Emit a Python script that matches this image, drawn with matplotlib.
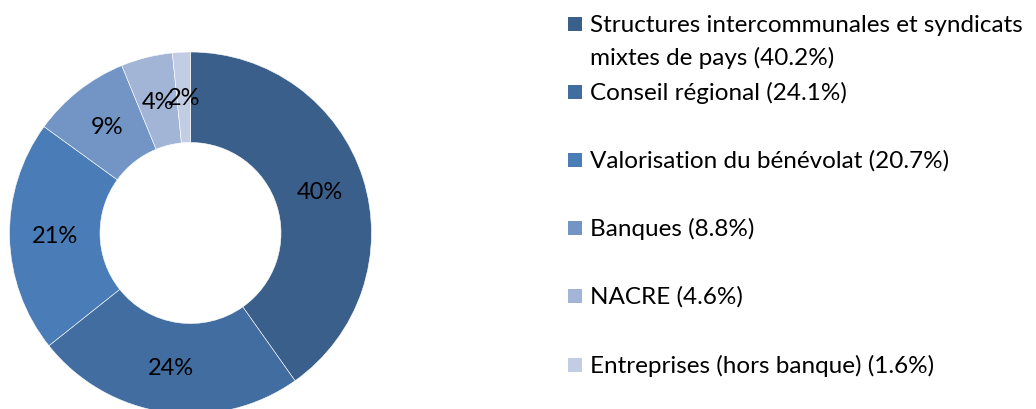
import matplotlib.pyplot as plt
from matplotlib.patches import Rectangle

# donut data
categories = ['Structures intercommunales et syndicats\nmixtes de pays',
              'Conseil régional',
              'Valorisation du bénévolat',
              'Banques',
              'NACRE',
              'Entreprises (hors banque)']
values = [40.2, 24.1, 20.7, 8.8, 4.6, 1.6]
pie_labels = ['40%', '24%', '21%', '9%', '4%', '2%']
colors = ['#3a5f8b', '#426da0', '#4a7db8', '#7295c5', '#a2b5d6', '#c2cde3']

plt.rcParams['font.family'] = ['Lato', 'DejaVu Sans']

W, H = 1036, 410
fig = plt.figure(figsize=(W / 100, H / 100), dpi=100)

# pie axes: centre ~(190.5, 234) px, radius ~181 px
R = 181
cx, cy = 190.5, 234
ax = fig.add_axes([(cx - R) / W, (H - cy - R) / H, 2 * R / W, 2 * R / H])
wedges, texts = ax.pie(values, colors=colors, startangle=90, counterclock=False,
                       radius=1, labels=pie_labels, labeldistance=0.75,
                       wedgeprops=dict(width=0.5, edgecolor='white', linewidth=0.4),
                       textprops=dict(fontsize=17, color='black',
                                      ha='center', va='center'))
ax.set_xlim(-1, 1)
ax.set_ylim(-1, 1)
ax.set_aspect('equal')
ax.axis('off')

# legend, placed by hand like the original
legend_y = [25, 93, 161, 229, 297, 366]   # px of the first text line
line_h = 33
sq = 14
for lab, val, col, y in zip(categories, values, colors, legend_y):
    fig.patches.append(Rectangle((568 / W, (H - y - sq / 2) / H), sq / W, sq / H,
                                 transform=fig.transFigure, facecolor=col,
                                 edgecolor='none'))
    lines = f'{lab} ({val}%)'.split('\n')
    for i, ln in enumerate(lines):
        fig.text(590 / W, (H - y - i * line_h) / H, ln, fontsize=17.5,
                 ha='left', va='center', transform=fig.transFigure)

fig.savefig('out.png', dpi=100)
